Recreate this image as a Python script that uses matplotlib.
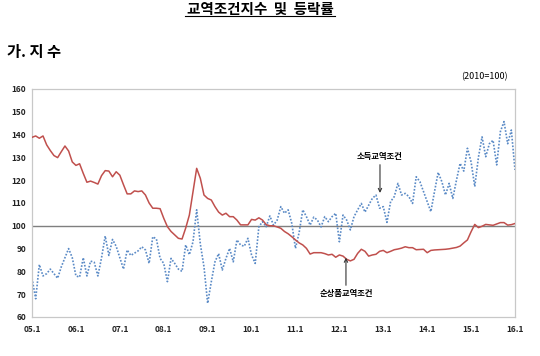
import matplotlib
matplotlib.use("Agg")
import matplotlib.pyplot as plt
from matplotlib.lines import Line2D
import numpy as np

plt.rcParams['font.family'] = ['Noto Sans CJK KR', 'DejaVu Sans']

# monthly index values, 2005.1 - 2016.1 (2010=100)
net_barter = [
    138.8, 139.4, 138.4, 139.4, 135.5, 133.0, 130.8, 129.9, 132.5, 135.0, 132.8, 128.0,
    126.5, 127.2, 123.0, 119.1, 119.6, 119.0, 118.3, 122.0, 124.2, 124.0, 121.5, 123.7,
    122.2, 118.0, 114.0, 114.0, 115.3, 115.0, 115.3, 113.5, 110.0, 107.7, 107.7, 107.5,
    103.3, 99.6, 97.5, 96.0, 94.5, 94.2, 99.0, 104.7, 115.0, 125.2, 120.8, 113.5,
    112.0, 111.3, 108.4, 106.0, 104.7, 105.5, 104.0, 104.0, 102.5, 100.4, 100.4, 100.4,
    102.8, 102.5, 103.5, 102.5, 100.5, 100.0, 100.0, 99.5, 98.9, 97.5, 96.5, 95.2,
    93.8, 92.5, 91.6, 90.1, 87.6, 88.2, 88.2, 88.2, 87.8, 87.2, 87.5, 86.2,
    87.2, 86.7, 85.3, 84.6, 85.3, 87.9, 89.7, 88.8, 86.7, 87.2, 87.5, 88.8,
    89.2, 88.2, 88.8, 89.5, 89.8, 90.2, 90.8, 90.4, 90.4, 89.5, 89.6, 89.7,
    88.2, 89.2, 89.4, 89.5, 89.6, 89.7, 89.9, 90.2, 90.5, 91.1, 92.5, 93.8,
    97.4, 100.6, 99.2, 99.8, 100.6, 100.4, 100.2, 100.8, 101.4, 101.4, 100.3, 100.5,
    101.0,
]
income = [
    77.0, 68.0, 83.0, 78.0, 79.0, 81.0, 79.0, 77.0, 82.0, 86.0, 90.0, 86.0,
    78.0, 77.5, 86.0, 78.0, 84.5, 84.0, 78.0, 86.0, 95.5, 87.0, 94.0, 91.0,
    86.0, 81.0, 89.4, 87.0, 88.0, 89.0, 90.8, 89.4, 83.5, 95.2, 94.2, 85.7,
    83.5, 75.5, 85.7, 83.5, 81.0, 80.0, 91.6, 87.3, 93.0, 107.0, 92.0, 82.0,
    66.0, 75.5, 84.2, 87.8, 80.6, 85.7, 90.1, 84.2, 93.8, 91.6, 91.0, 94.5,
    87.2, 83.5, 99.6, 101.8, 99.6, 104.3, 100.3, 102.5, 108.4, 105.5, 107.0, 101.0,
    90.1, 97.0, 107.0, 104.0, 100.3, 103.8, 102.5, 99.5, 104.0, 101.8, 104.0, 105.5,
    93.0, 104.7, 102.5, 98.2, 104.0, 107.0, 109.8, 106.0, 109.0, 112.0, 113.5, 107.7,
    108.4, 101.5, 110.6, 112.8, 118.6, 113.5, 114.2, 112.8, 109.8, 121.5, 119.4, 115.0,
    110.5, 106.2, 115.0, 123.4, 119.4, 113.5, 118.6, 112.0, 120.0, 127.4, 124.0, 134.0,
    128.0, 117.2, 130.0, 139.0, 130.3, 136.0, 137.5, 126.7, 141.3, 145.7, 136.0, 142.0,
    124.5,
]
year_labels = ["05.1", "06.1", "07.1", "08.1", "09.1", "10.1",
               "11.1", "12.1", "13.1", "14.1", "15.1", "16.1"]
y_ticks = [60, 70, 80, 90, 100, 110, 120, 130, 140, 150, 160]

months = np.arange(len(net_barter))

fig = plt.figure(figsize=(5.4, 3.56), dpi=100)
ax = fig.add_axes([0.0593, 0.1096, 0.8944, 0.6404])

ax.axhline(100, color="#7f7f7f", linewidth=1.0, zorder=1)
ax.plot(months, income, color="#5a8ac6", linestyle=(0, (1, 1)), linewidth=1.2, zorder=2)
ax.plot(months, net_barter, color="#c0504d", linewidth=1.1, zorder=3)

ax.set_xlim(0, len(net_barter) - 1)
ax.set_ylim(60, 160)
ax.set_yticks(y_ticks)
ax.set_xticks(np.arange(0, len(net_barter), 12))
ax.set_xticklabels(year_labels)
ax.tick_params(axis="both", length=0, labelsize=6, colors="#222222")
ax.tick_params(axis="x", pad=6)
ax.tick_params(axis="y", pad=4)
for lab in ax.get_xticklabels() + ax.get_yticklabels():
    lab.set_fontweight("bold")
for side in ax.spines.values():
    side.set_color("#c8c8c8")
    side.set_linewidth(0.9)

arrow = dict(arrowstyle="->", color="#333333", lw=0.8, shrinkA=1, shrinkB=0)
ax.annotate("소득교역조건", xy=(95.1, 114.4), xytext=(95.1, 130.6),
            ha="center", va="center", fontsize=6, fontweight="bold",
            arrowprops=arrow)
ax.annotate("순상품교역조건", xy=(85.8, 86.0), xytext=(85.8, 70.1),
            ha="center", va="center", fontsize=6, fontweight="bold",
            arrowprops=arrow)

fig.text(260 / 540, 1 - 9 / 356, "교역조건지수  및  등락률", ha="center", va="center",
         fontsize=10.5, fontweight="bold")
fig.add_artist(Line2D([185 / 540, 335 / 540], [1 - 16 / 356, 1 - 16 / 356],
                      color="black", linewidth=0.8))
fig.text(7 / 540, 1 - 52 / 356, "가. 지 수", ha="left", va="center",
         fontsize=11, fontweight="bold")
fig.text(508 / 540, 1 - 77 / 356, "(2010=100)", ha="right", va="center",
         fontsize=6.5)

fig.savefig("out.png", dpi=100)
